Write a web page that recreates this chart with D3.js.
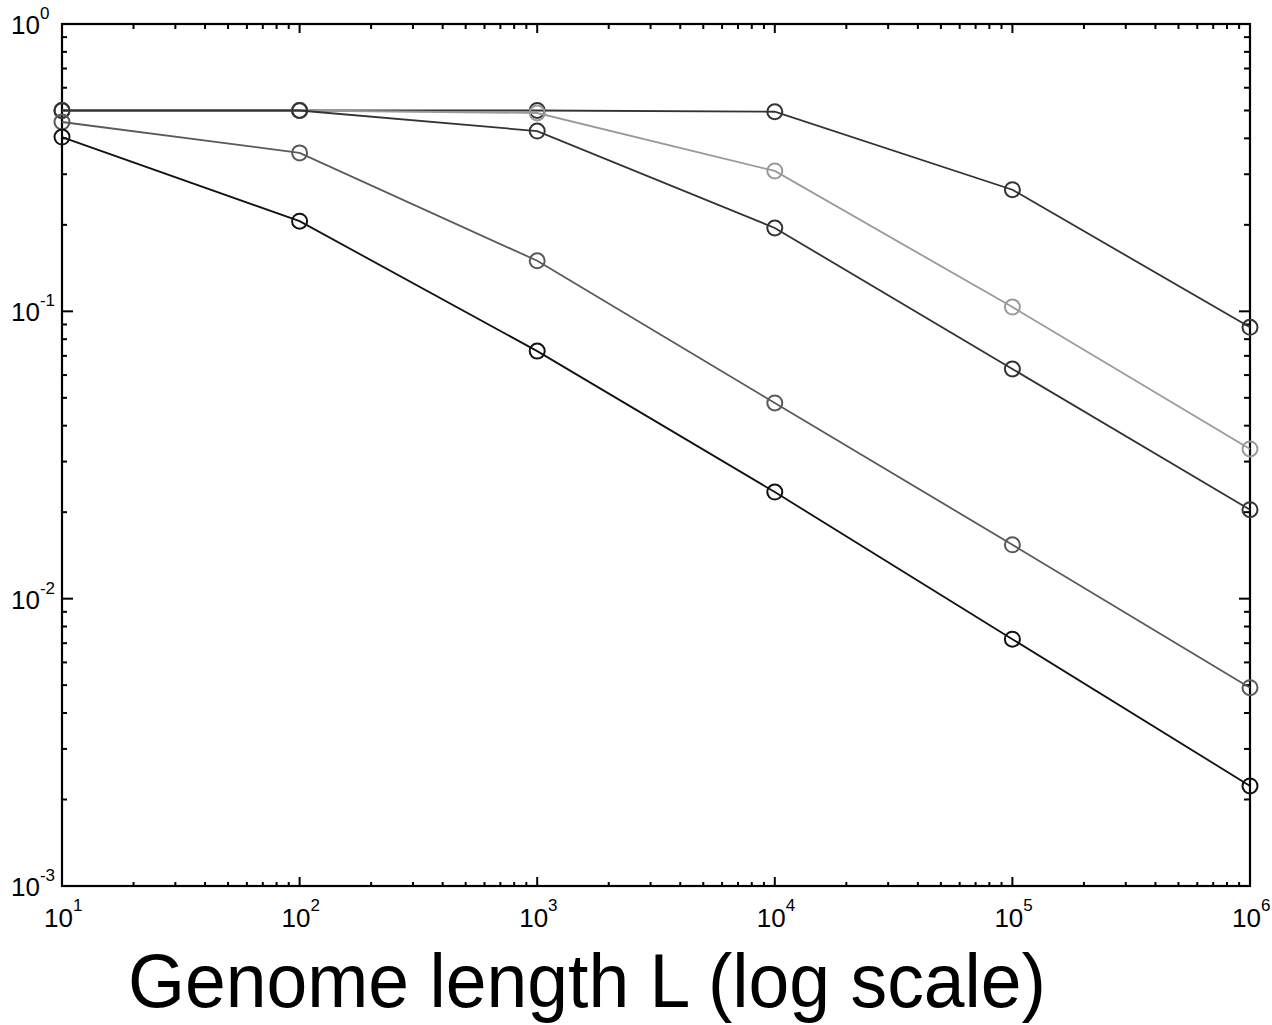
<!DOCTYPE html>
<html>
<head>
<meta charset="utf-8">
<script src="https://cdn.jsdelivr.net/npm/d3@7"></script>
<style>
  html, body { margin: 0; padding: 0; background: #fff; }
  svg { display: block; }
  text { font-family: "Liberation Sans", Arial, sans-serif; fill: #000; }
</style>
</head>
<body>
<svg id="chart" width="1272" height="1025"></svg>
<script>
// ---- data ----
const lengths = [1e1, 1e2, 1e3, 1e4, 1e5, 1e6];
const seriesA = [0.50, 0.50, 0.50, 0.495, 0.265, 0.088];
const seriesB = [0.50, 0.50, 0.49, 0.308, 0.1035, 0.0332];
const seriesC = [0.50, 0.50, 0.424, 0.195, 0.063, 0.0204];
const seriesD = [0.456, 0.356, 0.150, 0.048, 0.0154, 0.0049];
const seriesE = [0.404, 0.206, 0.0727, 0.0235, 0.00723, 0.00223];
const seriesColors = ["#333333", "#9a9a9a", "#333333", "#5a5a5a", "#111111"];
const xTickExps = [1, 2, 3, 4, 5, 6];
const yTickExps = [0, -1, -2, -3];
const xTitle = "Genome length L (log scale)";

const allSeries = [seriesA, seriesB, seriesC, seriesD, seriesE];

const svg = d3.select("#chart");
const pL = 62, pR = 1250, pT = 24, pB = 886;

const x = d3.scaleLog().domain([1e1, 1e6]).range([pL, pR]);
const y = d3.scaleLog().domain([1e-3, 1]).range([pB, pT]);

// minor ticks
const xMinor = [];
for (let e = 1; e < 6; e++) for (let m = 2; m <= 9; m++) xMinor.push(m * Math.pow(10, e));
const yMinor = [];
for (let e = -3; e < 0; e++) for (let m = 2; m <= 9; m++) yMinor.push(m * Math.pow(10, e));

const g = svg.append("g");

function tickLines(data, fn) {
  g.append("g").selectAll("line").data(data).join("line")
    .each(function(d) { const c = fn(d); d3.select(this).attr("x1", c[0]).attr("y1", c[1]).attr("x2", c[2]).attr("y2", c[3]); })
    .attr("stroke", "#000").attr("stroke-width", 2);
}

// x ticks (top and bottom, inward)
tickLines(xMinor, d => [x(d), pB, x(d), pB - 4]);
tickLines(xMinor, d => [x(d), pT, x(d), pT + 5]);
tickLines(xTickExps, d => [x(10 ** d), pB, x(10 ** d), pB - 9]);
tickLines(xTickExps, d => [x(10 ** d), pT, x(10 ** d), pT + 9]);
// y ticks (left and right, inward)
tickLines(yMinor, d => [pL, y(d), pL + 5, y(d)]);
tickLines(yMinor, d => [pR, y(d), pR - 6, y(d)]);
tickLines(yTickExps, d => [pL, y(10 ** d), pL + 11, y(10 ** d)]);
tickLines(yTickExps, d => [pR, y(10 ** d), pR - 11, y(10 ** d)]);

// frame
g.append("rect")
  .attr("x", pL).attr("y", pT)
  .attr("width", pR - pL).attr("height", pB - pT)
  .attr("fill", "none").attr("stroke", "#000").attr("stroke-width", 2.2);

// series
const line = d3.line().x((d, i) => x(lengths[i])).y(d => y(d));
allSeries.forEach((s, k) => {
  const sg = svg.append("g");
  sg.append("path").datum(s).attr("d", line)
    .attr("fill", "none").attr("stroke", seriesColors[k]).attr("stroke-width", 1.8);
  sg.selectAll("circle").data(s).join("circle")
    .attr("cx", (d, i) => x(lengths[i])).attr("cy", d => y(d)).attr("r", 7.5)
    .attr("fill", "none").attr("stroke", seriesColors[k]).attr("stroke-width", 2);
});

// y tick labels
yTickExps.forEach(e => {
  const yy = y(10 ** e);
  const t = svg.append("text").attr("x", 11).attr("y", yy + 10).style("font-size", "26px");
  t.append("tspan").text("10");
  t.append("tspan").attr("dy", -15).style("font-size", "17px").text(String(e));
});

// x tick labels
xTickExps.forEach(e => {
  const xx = x(10 ** e);
  const t = svg.append("text").attr("x", xx - 18).attr("y", 927).style("font-size", "26px");
  t.append("tspan").text("10");
  t.append("tspan").attr("dy", -16).style("font-size", "17px").text(String(e));
});

// x title
svg.append("text")
  .attr("x", 128).attr("y", 1007)
  .style("font-size", "76px")
  .attr("textLength", 918).attr("lengthAdjust", "spacingAndGlyphs")
  .text(xTitle);
</script>
</body>
</html>
